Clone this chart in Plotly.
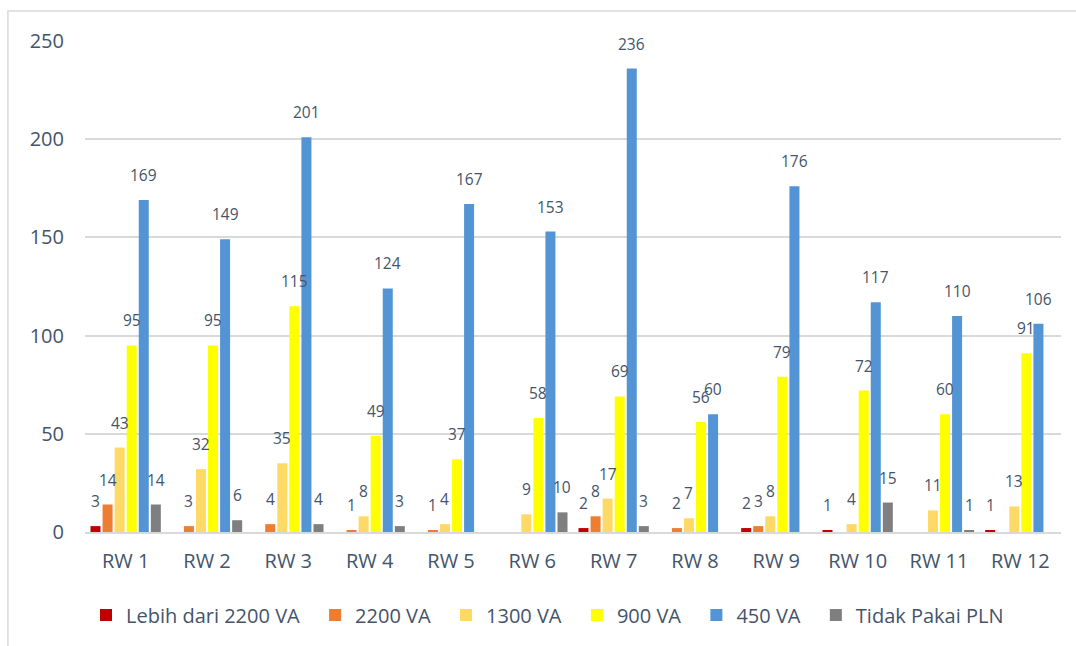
import plotly.graph_objects as go

categories = ["RW 1", "RW 2", "RW 3", "RW 4", "RW 5", "RW 6",
              "RW 7", "RW 8", "RW 9", "RW 10", "RW 11", "RW 12"]

lebih_2200 = [3, 0, 0, 0, 0, 0, 2, 0, 2, 1, 0, 1]
va_2200 = [14, 3, 4, 1, 1, 0, 8, 2, 3, 0, 0, 0]
va_1300 = [43, 32, 35, 8, 4, 9, 17, 7, 8, 4, 11, 13]
va_900 = [95, 95, 115, 49, 37, 58, 69, 56, 79, 72, 60, 91]
va_450 = [169, 149, 201, 124, 167, 153, 236, 60, 176, 117, 110, 106]
tidak_pln = [14, 6, 4, 3, 0, 10, 3, 0, 0, 15, 1, 0]

series = [
    ("Lebih dari 2200 VA", lebih_2200, "#C00000"),
    ("2200 VA", va_2200, "#ED7D31"),
    ("1300 VA", va_1300, "#FFD966"),
    ("900 VA", va_900, "#FFFF00"),
    ("450 VA", va_450, "#5394D4"),
    ("Tidak Pakai PLN", tidak_pln, "#7F7F7F"),
]

FONT = "'Open Sans', 'Noto Sans', sans-serif"
TXT = "#44546A"

W, H = 1076, 646
ML, MR, MT, MB = 85, 15, 41, 114
BARGAP = 0.11
plot_w = W - ML - MR
slot = plot_w / len(categories) * (1 - BARGAP) / len(series)

fig = go.Figure()
annotations = []
for i, (name, vals, col) in enumerate(series):
    fig.add_trace(go.Bar(
        name=name + "\u00a0\u00a0", x=categories, y=vals,
        marker=dict(color=col, line=dict(width=0)),
    ))
    for cat, v in zip(categories, vals):
        if v:
            annotations.append(dict(
                x=cat, y=v, xref="x", yref="y", text=str(v), showarrow=False,
                xshift=(i - (len(series) - 1) / 2) * slot, yshift=12,
                yanchor="bottom", xanchor="center",
                font=dict(family=FONT, size=15.5, color=TXT),
            ))

fig.update_layout(
    width=W, height=H,
    paper_bgcolor="white", plot_bgcolor="white",
    barmode="group", bargap=BARGAP, bargroupgap=0.17,
    margin=dict(l=ML, r=MR, t=MT, b=MB),
    font=dict(family=FONT, color=TXT),
    xaxis=dict(showgrid=False, showline=True, linecolor="#D9D9D9", linewidth=2,
               tickfont=dict(size=20, color=TXT), ticks="", ticklabelstandoff=10),
    yaxis=dict(range=[0, 250], dtick=50, showgrid=True, gridcolor="#D9D9D9",
               gridwidth=1.5, zeroline=False, showline=False,
               tickfont=dict(size=20, color=TXT), ticks="", ticklabelstandoff=20),
    legend=dict(orientation="h", x=0.479, xanchor="center", y=-0.169, yanchor="middle",
                font=dict(size=20, color=TXT), itemwidth=30, traceorder="normal"),
    annotations=annotations,
    shapes=[dict(type="rect", xref="paper", yref="paper",
                 x0=-0.079, x1=1.2, y0=-0.4, y1=1.061,
                 line=dict(color="#D9D9D9", width=1.5), layer="below")],
)

fig.write_html("out.html", config={"displayModeBar": False},
               post_script="document.body.style.margin='0';")
